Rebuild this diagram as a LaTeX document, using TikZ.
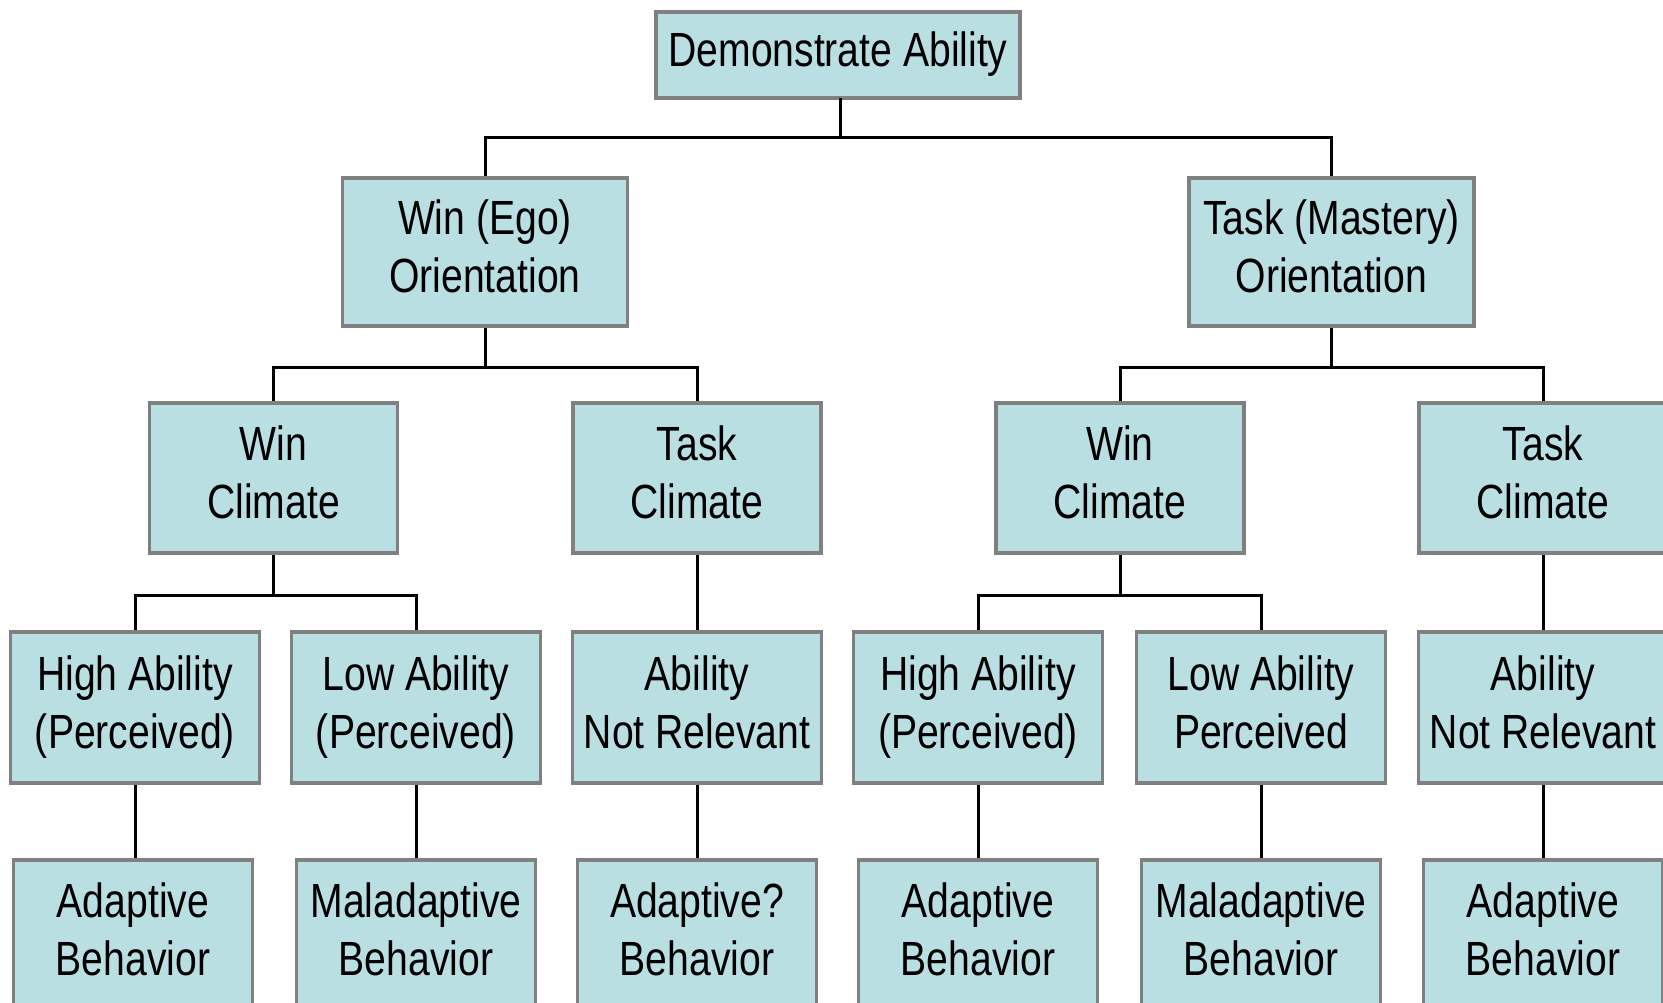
\documentclass[tikz,border=0pt]{standalone}
\usepackage{fontspec}
\setmainfont{Liberation Sans}[FakeStretch=0.815]
\definecolor{boxfill}{RGB}{186,223,227}
\definecolor{boxline}{RGB}{128,128,128}
\newcommand{\twoline}[2]{\strut #1\\\strut #2}
\begin{document}
\begin{tikzpicture}[x=1pt,y=-1pt,
  box/.style={draw=boxline,line width=3.5pt,fill=boxfill,inner sep=0pt,align=center,
    font=\fontsize{48}{58}\selectfont},
  lone/.style={box,minimum width=364pt,minimum height=86pt},
  ltwo/.style={box,minimum width=285pt,minimum height=148pt},
  lthree/.style={box,minimum width=248pt,minimum height=150pt},
  lfour/.style={box,minimum width=249pt,minimum height=151pt},
  lfive/.style={box,minimum width=239pt,minimum height=150pt},
  conn/.style={draw=black,line width=3pt}]
\useasboundingbox (0,0) rectangle (1663,1003);
\clip (0,0) rectangle (1663,1003);
\node[lone] (top) at (838,55) {\strut Demonstrate Ability};
\node[ltwo] (ego) at (485,252) {\twoline{Win (Ego)}{Orientation}};
\node[ltwo] (mas) at (1331.5,252) {\twoline{Task (Mastery)}{Orientation}};
\node[lthree] (wc1) at (273.6,478) {\twoline{Win}{Climate}};
\node[lthree] (tc1) at (697,478) {\twoline{Task}{Climate}};
\node[lthree] (wc2) at (1120,478) {\twoline{Win}{Climate}};
\node[lthree] (tc2) at (1543,478) {\twoline{Task}{Climate}};
\node[lfour] (ha1) at (135,707.5) {\twoline{High Ability}{(Perceived)}};
\node[lfour] (la1) at (416,707.5) {\twoline{Low Ability}{(Perceived)}};
\node[lfour] (nr1) at (697,707.5) {\twoline{Ability}{Not Relevant}};
\node[lfour] (ha2) at (978,707.5) {\twoline{High Ability}{(Perceived)}};
\node[lfour] (la2) at (1261,707.5) {\twoline{Low Ability}{Perceived}};
\node[lfour] (nr2) at (1543,707.5) {\twoline{Ability}{Not Relevant}};
\node[lfive] (b1) at (133,935) {\twoline{Adaptive}{Behavior}};
\node[lfive] (b2) at (416,935) {\twoline{Maladaptive}{Behavior}};
\node[lfive] (b3) at (697,935) {\twoline{Adaptive?}{Behavior}};
\node[lfive] (b4) at (978,935) {\twoline{Adaptive}{Behavior}};
\node[lfive] (b5) at (1261,935) {\twoline{Maladaptive}{Behavior}};
\node[lfive] (b6) at (1543,935) {\twoline{Adaptive}{Behavior}};
\coordinate (barA) at (0,138);
\coordinate (barB) at (0,367);
\coordinate (barC) at (0,595);
\coordinate (topdrop) at (840,98);
\draw[conn] (topdrop) -- (topdrop |- barA) -| (ego.north);
\draw[conn] (topdrop |- barA) -| (mas.north);
\draw[conn] (ego.south) -- (ego.south |- barB) -| (wc1.north);
\draw[conn] (ego.south |- barB) -| (tc1.north);
\draw[conn] (mas.south) -- (mas.south |- barB) -| (wc2.north);
\draw[conn] (mas.south |- barB) -| (tc2.north);
\draw[conn] (wc1.south) -- (wc1.south |- barC) -| (ha1.north);
\draw[conn] (wc1.south |- barC) -| (la1.north);
\draw[conn] (wc2.south) -- (wc2.south |- barC) -| (ha2.north);
\draw[conn] (wc2.south |- barC) -| (la2.north);
\draw[conn] (tc1.south) -- (nr1.north);
\draw[conn] (tc2.south) -- (nr2.north);
\draw[conn] (ha1.south) -- (ha1.south |- b1.north);
\draw[conn] (la1.south) -- (b2.north);
\draw[conn] (nr1.south) -- (b3.north);
\draw[conn] (ha2.south) -- (b4.north);
\draw[conn] (la2.south) -- (b5.north);
\draw[conn] (nr2.south) -- (b6.north);
\end{tikzpicture}
\end{document}
